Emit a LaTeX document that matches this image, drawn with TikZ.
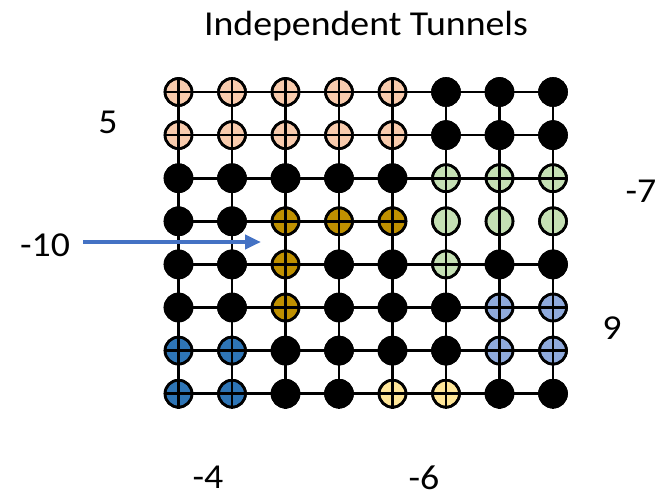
\documentclass[tikz,border=0pt]{standalone}
\usepackage{fontspec}
\setmainfont{Carlito}
\usetikzlibrary{arrows.meta}
\definecolor{peach}{HTML}{F8CBAD}
\definecolor{gold}{HTML}{BF9000}
\definecolor{lgreen}{HTML}{C5E0B4}
\definecolor{dblue}{HTML}{2E75B6}
\definecolor{lblue}{HTML}{8FAADC}
\definecolor{lyellow}{HTML}{FFE699}
\definecolor{arrowblue}{HTML}{4472C4}
\begin{document}
\begin{tikzpicture}[x=1pt,y=-1pt,
  dot/.style={circle,draw=black,line width=2.6pt,minimum size=27pt,inner sep=0pt},
  gridline/.style={line width=2.6pt,black},
  lbl/.style={font=\fontsize{35}{40}\selectfont,inner sep=0pt,xscale=1.08}]
\useasboundingbox (0,0) rectangle (658,498);
\foreach \r [count=\j from 1] in {
 {peach,peach,peach,peach,peach,black,black,black},
 {peach,peach,peach,peach,peach,black,black,black},
 {black,black,black,black,black,lgreen,lgreen,lgreen},
 {black,black,gold,gold,gold,lgreen,lgreen,lgreen},
 {black,black,gold,black,black,lgreen,black,black},
 {black,black,gold,black,black,black,lblue,lblue},
 {dblue,dblue,black,black,black,black,lblue,lblue},
 {dblue,dblue,black,black,lyellow,lyellow,black,black}}{
  \foreach \c [count=\i from 1] in \r {
    \node[dot,fill=\c] (n\i-\j) at ({178.5+53.5*(\i-1)},{92+43.1*(\j-1)}) {};
  }
}
% vertical lines
\foreach \i in {1,...,8}{
  \draw[gridline] (n\i-1.north) -- (n\i-8.south);
}
% horizontal lines
\foreach \j in {1,2,3,5,6,7,8}{
  \draw[gridline] (n1-\j.west) -- (n8-\j.east);
}
\draw[gridline] (n1-4.west) -- (n5-4.east);
% redraw outlines on top
\foreach \i in {1,...,8}{\foreach \j in {1,...,8}{
  \draw[line width=2.6pt] (n\i-\j.center) circle[radius=13.5pt];
}}
\node[lbl,anchor=base] (title) at (366,35) {Independent Tunnels};
\node[lbl] (l5) at (108,122) {5};
\node[lbl] (lm7) at (641,191) {-7};
\node[lbl] (lm10) at (45,245) {-10};
\node[lbl] (l9) at (612,328) {9};
\node[lbl] (lm4) at (208,477) {-4};
\node[lbl] (lm6) at (424,478) {-6};
\coordinate (as) at (83,242);
\coordinate (ae) at (261,242);
\draw[arrowblue,line width=4pt,-{Triangle[length=16pt,width=14pt]}] (as) -- (ae);
\end{tikzpicture}
\end{document}
